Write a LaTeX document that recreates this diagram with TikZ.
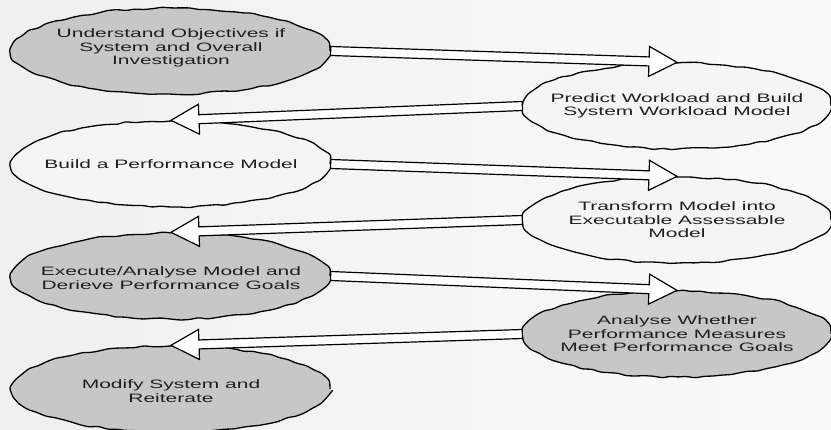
\documentclass[tikz,border=0pt]{standalone}
\usepackage{fontspec}
\newfontfamily\lblfont[FakeStretch=1.72]{Liberation Sans}
\usetikzlibrary{shapes.geometric,decorations.pathmorphing,calc}
\tikzset{
  stage/.style={ellipse, draw=black, line width=1.3pt, inner sep=0pt,
    minimum height=86pt,
    decorate, decoration={random steps, segment length=9pt, amplitude=1.1pt},
    rounded corners=2.5pt},
  leftstage/.style={stage, minimum width=318pt},
  rightstage/.style={stage, minimum width=308pt},
  darkfill/.style={fill=black!22},
  lightfill/.style={fill=black!4},
  lbl/.style={inner sep=0pt, align=center,
    font=\lblfont\fontsize{12.2}{13.5}\selectfont, text=black!88},
  blockarr/.style={draw=black, fill=white, line width=1.2pt, line join=miter}
}
\newcommand\blockarrow[2]{%
  \coordinate (hb) at ($(#2)!28pt!(#1)$);
  \draw[blockarr] ($(#1)!4.5pt!90:(#2)$) -- ($(hb)!4.5pt!90:(#2)$)
    -- ($(hb)!15pt!90:(#2)$) -- (#2) -- ($(hb)!15pt!-90:(#2)$)
    -- ($(hb)!4.5pt!-90:(#2)$) -- ($(#1)!4.5pt!-90:(#2)$) -- cycle;
}
\begin{document}
\begin{tikzpicture}[x=1pt, y=-1pt]
\pgfmathsetseed{7}
\useasboundingbox (0,0) rectangle (831,430);
\shade[left color=black!6, right color=black!2] (0,0) rectangle (831,430);

\node[leftstage, darkfill] (e1) at (171,51) {};
\node[rightstage, lightfill] (e2) at (677,106) {};
\node[leftstage, lightfill] (e3) at (171,164) {};
\node[rightstage, lightfill] (e4) at (677,220) {};
\node[leftstage, darkfill] (e5) at (171,276) {};
\node[rightstage, darkfill] (e6) at (677,334) {};
\node[leftstage, darkfill] (e7) at (171,389) {};

\node[lbl] (t1) at ($(e1.center)+(0,-3)$) {Understand Objectives if\\System and Overall\\Investigation};
\node[lbl] (t2) at (e2.center) {Predict Workload and Build\\System Workload Model};
\node[lbl] (t3) at (e3.center) {Build a Performance Model};
\node[lbl] (t4) at (e4.center) {Transform Model into\\Executable Assessable\\Model};
\node[lbl] (t5) at ($(e5.center)+(0,2)$) {Execute/Analyse Model and\\Derieve Performance Goals};
\node[lbl] (t6) at (e6.center) {Analyse Whether\\Performance Measures\\Meet Performance Goals};
\node[lbl] (t7) at ($(e7.center)+(0,2)$) {Modify System and\\Reiterate};

\blockarrow{e1.east}{e2.north}
\blockarrow{e2.west}{e3.north}
\blockarrow{e3.east}{e4.north}
\blockarrow{e4.west}{e5.north}
\blockarrow{e5.east}{e6.north}
\blockarrow{e6.west}{e7.north}
\end{tikzpicture}
\end{document}
